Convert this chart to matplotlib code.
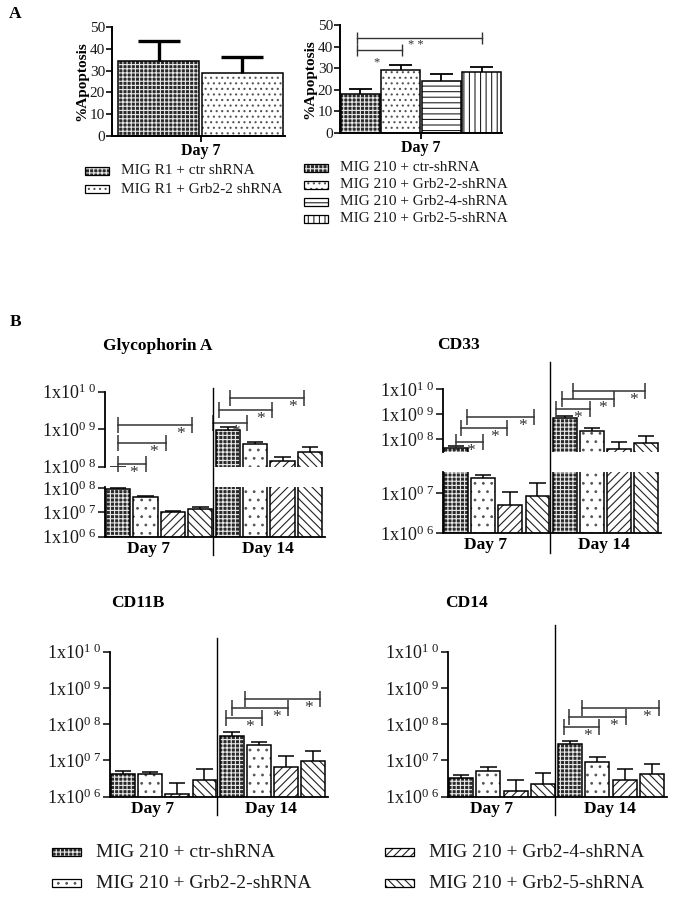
import numpy as np
import matplotlib
matplotlib.use('Agg')
import matplotlib.pyplot as plt
from matplotlib.patches import Rectangle
from matplotlib.lines import Line2D
from matplotlib.transforms import blended_transform_factory
from matplotlib.ticker import FixedLocator, NullLocator, FuncFormatter

plt.rcParams['font.family'] = ['Liberation Serif', 'DejaVu Serif']
plt.rcParams['mathtext.fontset'] = 'custom'
plt.rcParams['mathtext.rm'] = 'Liberation Serif'
plt.rcParams['hatch.linewidth'] = 0.8

# ---- panel A data (% apoptosis, day 7) ----
a1_labels = ['MIG R1 + ctr shRNA', 'MIG R1 + Grb2-2 shRNA']
a1_vals = np.array([34.5, 28.8])
a1_sem = np.array([9.2, 7.6])

a2_labels = ['MIG 210 + ctr-shRNA', 'MIG 210 + Grb2-2-shRNA',
             'MIG 210 + Grb2-4-shRNA', 'MIG 210 + Grb2-5-shRNA']
a2_vals = np.array([18.0, 29.0, 24.1, 28.2])
a2_sem = np.array([2.1, 2.3, 3.2, 2.1])
a2_brackets = [(-0.09, 1.04, 38.4, 0.40, 32.5, '*'),
               (-0.09, 3.00, 43.8, 1.38, 40.7, '* *')]

# ---- panel B data (cell numbers, day 7 then day 14) ----
b_labels = a2_labels
days = ['Day 7', 'Day 14']

gpa_vals = np.array([9.5e7, 4.3e7, 1.0e7, 1.4e7, 9.6e8, 4.0e8, 1.4e8, 2.5e8])
gpa_sem = np.array([0.5e7, 0.6e7, 0.2e7, 0.3e7, 2.1e8, 0.6e8, 0.4e8, 0.8e8])
gpa_brackets = [(0, 1.0, 1.15e8), (0, 1.73, 4.2e8), (0, 2.71, 1.3e9),
                (3.46, 4.72, 1.5e9), (3.67, 5.62, 3.2e9), (4.1, 6.8, 6.6e9)]

cd33_vals = np.array([4.6e7, 2.4e7, 5.1e6, 8.5e6, 6.9e8, 2.2e8, 4.0e7, 6.9e7])
cd33_sem = np.array([0.8e7, 0.5e7, 5.4e6, 9.3e6, 1.6e8, 0.55e8, 3.9e7, 6.6e7])
cd33_brackets = [(0, 0.98, 7.6e7), (0.18, 1.86, 2.9e8), (0.39, 2.88, 7.6e8),
                 (3.7, 4.93, 1.6e9), (3.89, 5.82, 3.9e9), (4.31, 6.97, 8.5e9)]

cd11b_vals = np.array([4.3e6, 4.2e6, 1.17e6, 2.8e6, 4.7e7, 2.6e7, 6.8e6, 9.5e6])
cd11b_sem = np.array([0.8e6, 0.5e6, 1.2e6, 3.0e6, 1.3e7, 0.7e7, 6.4e6, 9.1e6])
cd11b_brackets = [(3.81, 5.12, 1.45e8), (4.02, 6.08, 2.75e8), (4.48, 7.27, 4.9e8)]

cd14_vals = np.array([3.2e6, 5.1e6, 1.4e6, 2.2e6, 2.8e7, 8.9e6, 2.9e6, 4.1e6])
cd14_sem = np.array([0.8e6, 1.4e6, 1.5e6, 2.3e6, 0.7e7, 3.4e6, 2.9e6, 3.8e6])
cd14_brackets = [(3.79, 5.07, 8.5e7), (3.97, 6.03, 1.55e8), (4.45, 7.25, 2.75e8)]

# fill styles
CHECK = dict(face='#2a2a2a', hatch='++++', hc='#e8e8e8')
DOTS = dict(face='white', hatch='..', hc='#555555')
DOTS_A = dict(face='white', hatch='...', hc='#555555')
HLINE = dict(face='white', hatch='---', hc='#222222')
VLINE = dict(face='white', hatch='|||', hc='#222222')
DIAG = dict(face='white', hatch='////', hc='#222222')
BDIAG = dict(face='white', hatch='\\\\\\\\', hc='#222222')

W, H = 681, 897
fig = plt.figure(figsize=(W / 100, H / 100), dpi=100)
TXT = '#1a1a1a'


def px_ax(l, t, r, b):
    return fig.add_axes([l / W, 1 - b / H, (r - l) / W, (b - t) / H])


def fx(x):
    return x / W


def fy(y):
    return 1 - y / H


def draw_bar(ax, x, h, w, st, bottom=0):
    ax.bar(x, h, w, bottom=bottom, color=st['face'], edgecolor=st['hc'],
           hatch=st['hatch'], linewidth=0)
    ax.bar(x, h, w, bottom=bottom, fill=False, edgecolor='k', linewidth=1.1)


def err_up(ax, x, vals, sem, cap, lw):
    ax.vlines(x, vals, vals + sem, color='k', lw=lw)
    ax.hlines(vals + sem, x - cap, x + cap, color='k', lw=lw)


def legend_row(x, y, w, h, st, label, fs, gap=12):
    r = Rectangle((fx(x), fy(y + h / 2)), w / W, h / H, transform=fig.transFigure,
                  facecolor=st['face'], edgecolor=st['hc'], hatch=st['hatch'], lw=0)
    fig.add_artist(r)
    r2 = Rectangle((fx(x), fy(y + h / 2)), w / W, h / H, transform=fig.transFigure,
                   fill=False, edgecolor='k', lw=0.9)
    fig.add_artist(r2)
    fig.text(fx(x + w + gap), fy(y), label, fontsize=fs, va='center', ha='left', color=TXT)


def exp_label(v, pos):
    e = '%02d' % int(round(np.log10(v)))
    return r'$\mathregular{1x10^{%s\ %s}}$' % (e[0], e[1])


# ================= panel A =================
fig.text(fx(15), fy(14), 'A', fontsize=12.5, fontweight='bold', ha='center', va='center')
fig.text(fx(16), fy(322), 'B', fontsize=12.5, fontweight='bold', ha='center', va='center')


def style_a(ax, xlim):
    ax.set_xlim(*xlim)
    ax.set_ylim(0, 50)
    ax.set_yticks(range(0, 51, 10))
    for s in ['top', 'right']:
        ax.spines[s].set_visible(False)
    for s in ['left', 'bottom']:
        ax.spines[s].set_linewidth(1.4)
    ax.tick_params(axis='y', length=4, width=1.3, labelsize=11, pad=1, colors=TXT)
    ax.tick_params(axis='x', length=4, width=1.3, labelsize=11.5, pad=1)
    for t in ax.get_xticklabels():
        t.set_fontweight('bold')
    ax.set_ylabel('%Apoptosis', fontsize=11, fontweight='bold', labelpad=1)


axA1 = px_ax(112, 27, 285, 136)
xa1 = np.arange(len(a1_vals))
a1_styles = [CHECK, DOTS_A]
for i in range(len(a1_vals)):
    draw_bar(axA1, xa1[i], a1_vals[i], 0.97, a1_styles[i])
err_up(axA1, xa1, a1_vals, a1_sem, 0.25, 2.4)
axA1.set_xticks([0.5])
axA1.set_xticklabels(['Day 7'])
style_a(axA1, (-0.56, 1.51))

axA2 = px_ax(340, 25, 502, 132.7)
xa2 = np.arange(len(a2_vals))
a2_styles = [CHECK, DOTS_A, HLINE, VLINE]
for i in range(len(a2_vals)):
    draw_bar(axA2, xa2[i], a2_vals[i], 0.96, a2_styles[i])
err_up(axA2, xa2, a2_vals, a2_sem, 0.28, 1.3)
for x1, x2, yb, xs, ys, lab in a2_brackets:
    axA2.plot([x1, x2], [yb, yb], color='#333333', lw=1.0, marker='|', ms=9, mew=1.0,
              clip_on=False)
    axA2.text(xs, ys, lab, fontsize=9, ha='center', va='center', color='#333333')
axA2.set_xticks([1.5])
axA2.set_xticklabels(['Day 7'])
style_a(axA2, (-0.5, 3.5))

for i, lab in enumerate(a1_labels):
    legend_row(85, 171 + i * 18.5, 24, 8, a1_styles[i], lab, 11)
for i, lab in enumerate(a2_labels):
    legend_row(304, 167.7 + i * 17, 24, 8, a2_styles[i], lab, 11)

# ================= panel B =================
b_styles = [CHECK, DOTS, DIAG, BDIAG]
xb = np.arange(8)
XLIM = (-0.48, 7.55)


def log_axis(ax, ylim, ticks, bottom_spine):
    ax.set_yscale('log')
    ax.set_xlim(*XLIM)
    ax.set_ylim(*ylim)
    ax.yaxis.set_major_locator(FixedLocator(ticks))
    ax.yaxis.set_minor_locator(NullLocator())
    ax.yaxis.set_major_formatter(FuncFormatter(exp_label))
    ax.spines['top'].set_visible(False)
    ax.spines['right'].set_visible(False)
    ax.spines['left'].set_linewidth(1.3)
    ax.spines['bottom'].set_linewidth(1.3)
    ax.tick_params(axis='y', length=5, width=1.2, labelsize=13, pad=1, colors=TXT)
    if bottom_spine:
        ax.set_xticks([1.1, 5.45])
        ax.set_xticklabels(days, fontsize=12.5, fontweight='bold')
        ax.tick_params(axis='x', length=0, pad=3)
    else:
        ax.spines['bottom'].set_visible(False)
        ax.set_xticks([])


def fill_axis(ax, vals, sem):
    for i in range(len(vals)):
        draw_bar(ax, xb[i], vals[i] - 1e3, 0.88, b_styles[i % 4], bottom=1e3)
    err_up(ax, xb, vals, sem, 0.3, 1.1)


def brackets(ax, br):
    for x1, x2, yb in br:
        ax.plot([x1, x2], [yb, yb], color='#333333', lw=1.1, marker='|', ms=11, mew=1.1,
                clip_on=False)
        ax.annotate('*', xy=(x2, yb), xytext=(-12, -9), textcoords='offset pixels',
                    ha='center', va='center', fontsize=12.5, color='#333333')


def divider(ax, y0, y1):
    tr = blended_transform_factory(ax.transData, fig.transFigure)
    fig.add_artist(Line2D([3.45, 3.45], [fy(y0), fy(y1)], transform=tr, color='k', lw=1.0))


def panel_broken(title, tpos, x0, x1, up_box, low_box, up_lim, low_lim, low_ticks,
                 vals, sem, br, div):
    fig.text(fx(tpos[0]), fy(tpos[1]), title, fontsize=12.5, fontweight='bold',
             ha='center', va='center')
    up = px_ax(x0, up_box[0], x1, up_box[1])
    lo = px_ax(x0, low_box[0], x1, low_box[1])
    log_axis(up, up_lim, [1e8, 1e9, 1e10], False)
    log_axis(lo, low_lim, low_ticks, True)
    fill_axis(up, vals, sem)
    fill_axis(lo, vals, sem)
    brackets(up, br)
    divider(lo, *div)


def panel_single(title, tpos, x0, x1, box, vals, sem, br, div):
    fig.text(fx(tpos[0]), fy(tpos[1]), title, fontsize=12.5, fontweight='bold',
             ha='center', va='center')
    ax = px_ax(x0, box[0], x1, box[1])
    log_axis(ax, (1e6, 1e10), [1e6, 1e7, 1e8, 1e9, 1e10], True)
    fill_axis(ax, vals, sem)
    brackets(ax, br)
    divider(ax, *div)


panel_broken('Glycophorin A', (157.5, 346), 105, 325, (391.7, 466.7), (487, 536.7),
             (1e8, 1e10), (1e6, 10 ** 8.05), [1e6, 1e7, 1e8],
             gpa_vals, gpa_sem, gpa_brackets, (388, 555))
panel_broken('CD33', (459, 345), 443, 661, (389, 451.7), (471.7, 533.3),
             (10 ** 7.5, 1e10), (1e6, 10 ** 7.54), [1e6, 1e7],
             cd33_vals, cd33_sem, cd33_brackets, (361.7, 553.3))
panel_single('CD11B', (137.5, 602.7), 110, 328, (651.7, 796.7),
             cd11b_vals, cd11b_sem, cd11b_brackets, (638, 815))
panel_single('CD14', (466, 602.7), 448, 667, (651.7, 796.7),
             cd14_vals, cd14_sem, cd14_brackets, (625, 815))

# bottom legend
for i, lab in enumerate(b_labels):
    col, row = divmod(i, 2)
    legend_row([52, 385][col], 852 + row * 31, 29, 8, b_styles[i], lab, 14, gap=15)

fig.savefig('out.png', dpi=100, facecolor='white')
